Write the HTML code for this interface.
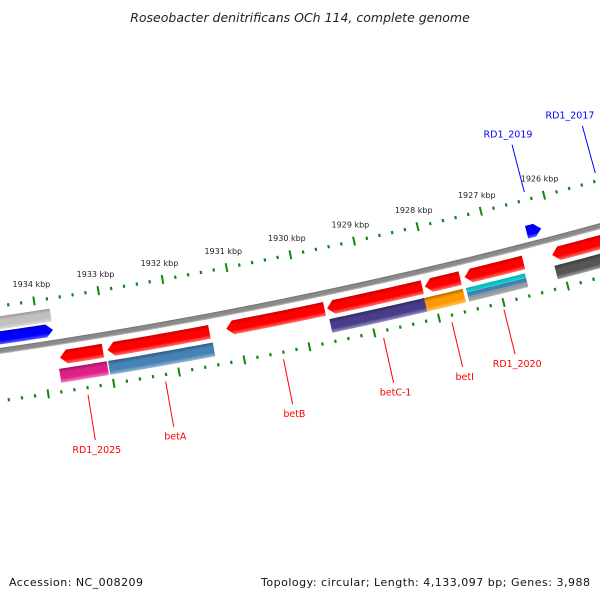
<!DOCTYPE html>
<html><head><meta charset="utf-8"><style>
html,body{margin:0;padding:0;background:#fff;width:600px;height:600px;overflow:hidden}
svg{display:block;font-family:"DejaVu Sans","Liberation Sans",sans-serif}
</style></head><body>
<svg id="map" width="600" height="600" viewBox="0 0 600 600" xmlns="http://www.w3.org/2000/svg">
<defs id="defs"></defs>
<text x="300" y="22" text-anchor="middle" font-size="12.5" font-style="italic" fill="#222">Roseobacter denitrificans OCh 114, complete genome</text>
<text x="9" y="586" font-size="11" fill="#111" textLength="134">Accession: NC_008209</text>
<text x="590" y="586" font-size="11" fill="#111" text-anchor="end" textLength="329">Topology: circular; Length: 4,133,097 bp; Genes: 3,988</text>
<g id="ticks"></g>
<g id="backbone"></g>
<g id="features"></g>
<g id="labels"></g>
</svg>
<script>
// ---- data (kbp) ----
const geneNames = ["RD1_2025","betA","betB","betC-1","betI","RD1_2020","gene-right"];
const geneStarts = [1933.08,1931.44,1929.66,1928.14,1927.55,1926.56,1925.2];
const geneEnds   = [1933.74,1933.01,1931.18,1929.62,1928.10,1927.48,1926.11];
const geneLabelled = [1,1,1,1,1,1,0];
const domNames  = ["pink-feature","steelblue-feature","purple-feature","orange-feature","darkgray-feature"];
const domStarts = [1933.05,1931.42,1928.15,1927.55,1925.2];
const domEnds   = [1933.78,1933.03,1929.62,1928.15,1926.12];
const domColors = ["#e0208a","#4682b4","#483d8b","#ff9900","#555555"];
const stackStarts = [1926.58,1926.58,1926.58];
const stackEnds   = [1927.50,1927.50,1927.50];
const stackColors = ["#00c8c8","#4682b4","#a0a0a0"];
const fwdNames  = ["blue-gene-left","RD1_2019","RD1_2017"];
const fwdStarts = [1933.78,1926.17,1924.4];
const fwdEnds   = [1935.5,1926.40,1924.8];
const fwdLabelled = [0,1,1];
const fwdLabelKbp = [0,1926.28,1925.15];
const grayStarts = [1933.78];
const grayEnds = [1935.5];
const tickLabels = [1926,1927,1928,1929,1930,1931,1932,1933,1934];

// ---- geometry ----
const CX=-716, CY=-4598;
const SVGNS="http://www.w3.org/2000/svg";
function theta(k){return (81.296-(1934-k)*0.753)*Math.PI/180;}
function pt(r,k){const t=theta(k);return [CX+r*Math.cos(t),CY+r*Math.sin(t)];}
function mk(tag,attrs,parent){const e=document.createElementNS(SVGNS,tag);for(const a in attrs)e.setAttribute(a,attrs[a]);parent.appendChild(e);return e;}
function arcPts(r,a,b,n){const p=[];for(let i=0;i<=n;i++){p.push(pt(r,a+(b-a)*i/n));}return p;}
let gid=0;
function grad(r0,r1,c0,c1,c2){
  const id="g"+(gid++);
  const g=mk("radialGradient",{id:id,gradientUnits:"userSpaceOnUse",cx:CX,cy:CY,r:r1},document.getElementById("defs"));
  const o=r0/r1;
  mk("stop",{offset:0,"stop-color":c0},g);
  mk("stop",{offset:o,"stop-color":c0},g);
  mk("stop",{offset:o+(1-o)*0.3,"stop-color":c1},g);
  mk("stop",{offset:o+(1-o)*0.7,"stop-color":c1},g);
  mk("stop",{offset:1,"stop-color":c2},g);
  return "url(#"+id+")";
}
function feature(parent,r0,r1,a,b,dir,fill,name){
  const h=0.105, rm=(r0+r1)/2;
  let pts=[];
  if(dir===1){pts=pts.concat(arcPts(r1,a,b-h,12));pts.push(pt(rm,b));pts=pts.concat(arcPts(r0,b-h,a,12));}
  else if(dir===-1){pts.push(pt(rm,a));pts=pts.concat(arcPts(r1,a+h,b,12));pts=pts.concat(arcPts(r0,b,a+h,12));}
  else{pts=pts.concat(arcPts(r1,a,b,12));pts=pts.concat(arcPts(r0,b,a,12));}
  const p=mk("polygon",{points:pts.map(q=>q[0].toFixed(2)+","+q[1].toFixed(2)).join(" "),fill:fill},parent);
  
  
  return p;
}
function shade(hex,f){const n=parseInt(hex.slice(1),16);let r=n>>16,g=(n>>8)&255,b=n&255;
  const m=x=>Math.max(0,Math.min(255,Math.round(f<1?x*f:x+(255-x)*(f-1))));
  return "rgb("+m(r)+","+m(g)+","+m(b)+")";}

// ---- tick rings ----
const tg=document.getElementById("ticks");
function ring(rc,withLabels,ringName){
  for(let i=0;i<=55;i++){
    const k=1924.6+i*0.2;
    const major=Math.abs(k-Math.round(k))<0.01;
    const len=major?9:3.2;
    const p0=pt(rc-len/2,k),p1=pt(rc+len/2,k);
    const l=mk("line",{x1:p0[0],y1:p0[1],x2:p1[0],y2:p1[1],stroke:"#118811","stroke-width":major?2:2.2},tg);
    
    
  }
  if(withLabels){
    tickLabels.forEach(k=>{
      const p=pt(4939,k);
      const t=mk("text",{x:p[0].toFixed(1),y:(p[1]+3).toFixed(1),"text-anchor":"middle","font-size":"8","fill":"#222"},tg);
      t.textContent=k+" kbp";
      
      
    });
  }
}
ring(4956,true,'inner-ring');
ring(5050,false,'outer-ring');

// ---- backbone ----
const bb=document.getElementById("backbone");
const bpts=arcPts(5003.5,1924,1936.5,30).concat(arcPts(4997.5,1936.5,1924,30));
const bp=mk("polygon",{points:bpts.map(q=>q[0].toFixed(2)+","+q[1].toFixed(2)).join(" "),fill:grad(4997.5,5003.5,"#6e6e6e","#8a8a8a","#c8c8c8")},bb);



// ---- features ----
const fg=document.getElementById("features");
const T1=[5009,5023], T2=[5027,5041], T0=[4981,4994], TG=[4966,4979];
geneStarts.forEach((s,i)=>{
  feature(fg,T1[0],T1[1],s,geneEnds[i],1,grad(T1[0],T1[1],"#cc0000","#ff0000","#ff7070"),"gene-"+geneNames[i]);
});
domStarts.forEach((s,i)=>{
  const c=domColors[i];
  feature(fg,T2[0],T2[1],s,domEnds[i],0,grad(T2[0],T2[1],shade(c,0.7),c,shade(c,1.45)),domNames[i]);
});
const sh=(T2[1]-T2[0])/3;
stackStarts.forEach((s,i)=>{
  const c=stackColors[i],r0=T2[0]+i*sh,r1=r0+sh;
  feature(fg,r0,r1,s,stackEnds[i],0,grad(r0,r1,shade(c,0.8),c,shade(c,1.3)),"stacked-feature");
});
fwdStarts.forEach((s,i)=>{
  feature(fg,T0[0],T0[1],s,fwdEnds[i],-1,grad(T0[0],T0[1],"#0000cc","#0000ff","#6060ff"),"gene-"+fwdNames[i]);
});
grayStarts.forEach((s,i)=>{
  feature(fg,TG[0],TG[1],s,grayEnds[i],0,grad(TG[0],TG[1],"#999999","#c0c0c0","#dcdcdc"),"gray-feature");
});

// ---- labels ----
const lg=document.getElementById("labels");
geneStarts.forEach((s,i)=>{
  if(!geneLabelled[i])return;
  const k=(s+geneEnds[i])/2;
  const a=pt(5057,k),b=pt(5103,k),c=pt(5112,k);
  const l=mk("line",{x1:a[0],y1:a[1],x2:b[0],y2:b[1],stroke:"#ff0000","stroke-width":1},lg);
  
  
  const t=mk("text",{x:c[0].toFixed(1),y:(c[1]+4).toFixed(1),"text-anchor":"middle","font-size":"9.5",fill:"#ff0000"},lg);
  t.textContent=geneNames[i];
  
  
});
fwdStarts.forEach((s,i)=>{
  if(!fwdLabelled[i])return;
  const k=fwdLabelKbp[i];
  const a=pt(4948,k),b=pt(4899,k),c=pt(4891,k);
  const l=mk("line",{x1:a[0],y1:a[1],x2:b[0],y2:b[1],stroke:"#0000ff","stroke-width":1},lg);
  
  
  const tx=Math.min(c[0]-2,570);
  const t=mk("text",{x:tx.toFixed(1),y:(c[1]+0.5).toFixed(1),"text-anchor":"middle","font-size":"9.5",fill:"#0000ff"},lg);
  t.textContent=fwdNames[i];
  
  
});
</script>
</body></html>
